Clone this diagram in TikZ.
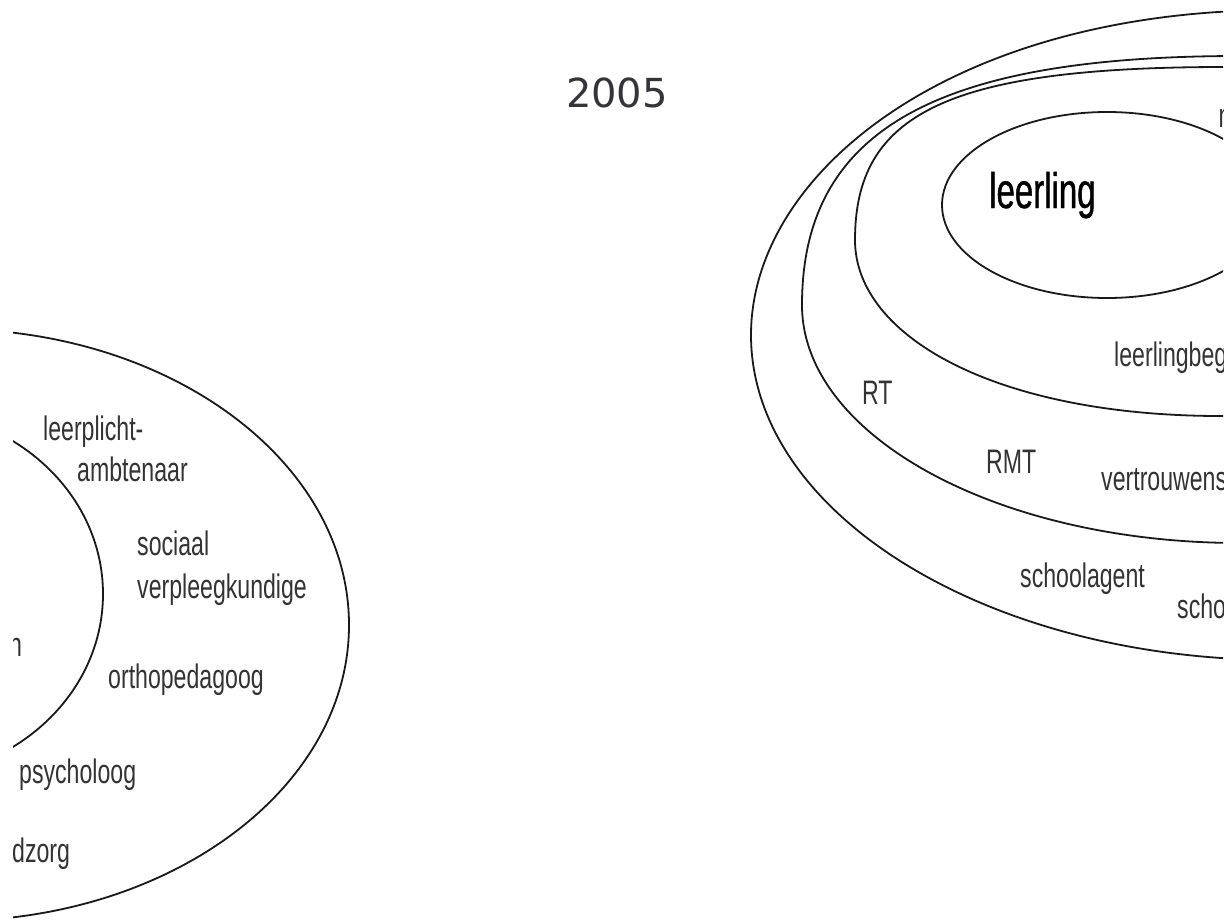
\documentclass[tikz,border=0pt]{standalone}
\usepackage{fontspec}
\newfontfamily\labfont[FakeStretch=0.68]{Liberation Sans}
\newfontfamily\bigfont[FakeStretch=0.66,FakeBold=0.8]{Liberation Sans}
\newfontfamily\yearfont{DejaVu Sans}
\definecolor{yeargray}{RGB}{52,52,58}
\begin{document}
\begin{tikzpicture}[x=1pt,y=-1pt,
  ring/.style={draw=black!90,line width=1.8pt,line join=round},
  lab/.style={inner sep=0pt,anchor=base west,text=black!80,font=\labfont\fontsize{34}{40}\selectfont},
  biglab/.style={inner sep=0pt,anchor=base west,text=black,font=\bigfont\fontsize{50}{58}\selectfont},
  yearlab/.style={inner sep=0pt,anchor=base,text=yeargray,font=\yearfont\fontsize{40}{48}\selectfont}]
\fill[white] (0,0) rectangle (1227,924);
\useasboundingbox (0,0) rectangle (1227,924);
\node[yearlab] (year) at (617,107) {2005};
\begin{scope}
\clip (13,0) rectangle (1223,924);
% left panel
\draw[ring] (-50,625) ellipse [x radius=399pt, y radius=296pt];
\draw[ring] (-100,594) ellipse [x radius=203pt, y radius=184pt];
% right panel
\draw[ring] (1280,10) .. controls (952,10) and (751,172.5) .. (751,335)
  .. controls (751,514) and (988,660) .. (1280,660);
\draw[ring] (1240,56) .. controls (940,56) and (802,128) .. (802,305)
  .. controls (802,436) and (998,543) .. (1240,543);
\draw[ring] (1225,67) .. controls (945,67) and (855,115) .. (855,240)
  .. controls (855,338) and (1000,417) .. (1225,416);
\draw[ring] (1107,205) ellipse [x radius=165pt, y radius=93pt];
% left labels
\node[lab] (leerplicht) at (43,440) {leerplicht-};
\node[lab] (ambtenaar) at (77,481) {ambtenaar};
\node[lab] (sociaal) at (137,555) {sociaal};
\node[lab] (verpleeg) at (137,598) {verpleegkundige};
\node[lab] (ortho) at (108,688) {orthopedagoog};
\node[lab] (psycho) at (19,783) {psycholoog};
\node[lab] (dzorg) at (12,862) {dzorg};
\node[lab] (ncut) at (9,656) {n};
% right labels
\node[biglab] (leerling) at (989,208) {leerling};
\node[lab] (mcut) at (1218.5,127) {m};
\node[lab] (begel) at (1114,366) {leerlingbeg};
\node[lab] (rt) at (862,404) {RT};
\node[lab] (rmt) at (986,473) {RMT};
\node[lab] (vertr) at (1101,490) {vertrouwens};
\node[lab] (agent) at (1020,587) {schoolagent};
\node[lab] (scho) at (1177,618) {scho};
\end{scope}
\end{tikzpicture}
\end{document}
